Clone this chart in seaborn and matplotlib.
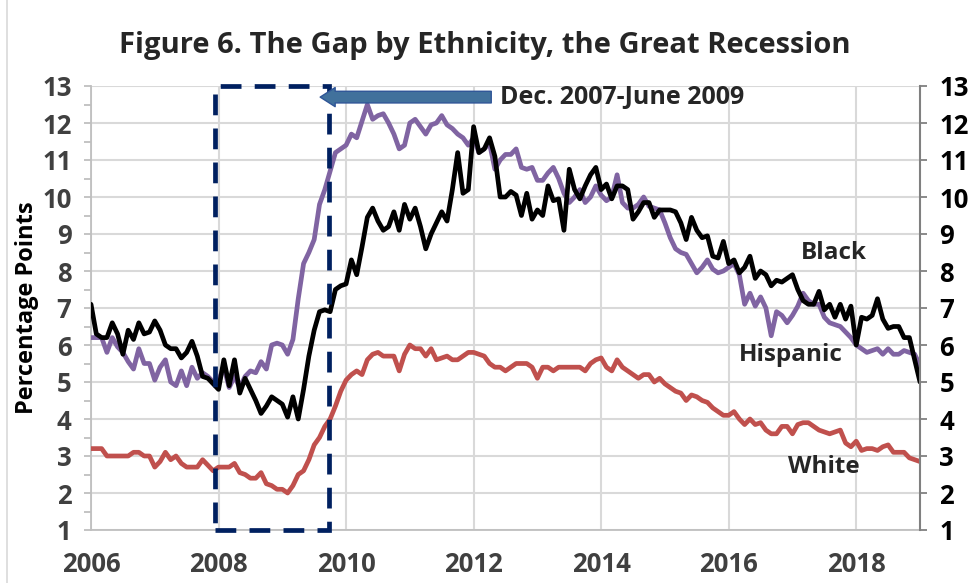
import matplotlib.pyplot as plt
import matplotlib.patches as mpatches
import numpy as np
import pandas as pd
import seaborn as sns

sns.set_theme(style="white")
plt.rcParams['font.family'] = ['Open Sans', 'DejaVu Sans']

# monthly gap (percentage points), Jan 2006 .. Jan 2019
black = [7.1, 6.3, 6.2, 6.2, 6.6, 6.3, 5.75, 6.4, 6.15, 6.6, 6.3, 6.35,
         6.65, 6.4, 6.0, 5.9, 5.9, 5.65, 5.8, 6.1, 5.7, 5.15, 5.1, 4.95,
         4.8, 5.6, 4.9, 5.6, 4.7, 5.1, 4.8, 4.5, 4.15, 4.35, 4.6, 4.5,
         4.4, 4.05, 4.6, 4.0, 4.8, 5.7, 6.4, 6.9, 6.95, 6.9, 7.5, 7.6,
         7.65, 8.3, 7.9, 8.65, 9.45, 9.7, 9.35, 9.1, 9.2, 9.6, 9.1, 9.8,
         9.4, 9.7, 9.2, 8.6, 9.0, 9.3, 9.6, 9.35, 10.2, 11.2, 10.1, 10.2,
         11.9, 11.2, 11.3, 11.6, 11.1, 10.0, 10.0, 10.15, 10.05, 9.5, 10.1, 9.4,
         9.65, 9.5, 10.3, 9.9, 9.95, 9.1, 10.75, 10.2, 9.95, 10.3, 10.6, 10.8,
         10.2, 10.35, 9.95, 10.3, 10.3, 10.2, 9.4, 9.6, 9.85, 9.85, 9.45, 9.65,
         9.65, 9.65, 9.6, 9.3, 8.85, 9.45, 9.1, 8.9, 8.95, 8.4, 8.35, 8.8,
         8.2, 8.3, 7.95, 8.1, 8.4, 7.8, 8.0, 7.9, 7.6, 7.75, 7.7, 7.8,
         7.9, 7.5, 7.2, 7.1, 7.1, 7.45, 6.95, 7.1, 6.75, 7.1, 6.7, 7.05,
         6.0, 6.75, 6.7, 6.8, 7.25, 6.7, 6.45, 6.5, 6.5, 6.2, 6.2, 5.6,
         5.0]
hispanic = [6.2, 6.2, 6.2, 5.8, 6.2, 5.95, 5.8, 5.55, 5.35, 5.9, 5.5, 5.5,
            5.05, 5.4, 5.6, 5.0, 4.9, 5.3, 4.9, 5.4, 5.1, 5.25, 5.15, 5.0,
            5.05, 5.4, 4.85, 5.15, 4.85, 5.15, 5.3, 5.25, 5.55, 5.35, 6.0, 6.05,
            6.0, 5.75, 6.15, 7.25, 8.2, 8.5, 8.85, 9.8, 10.2, 10.7, 11.2, 11.3,
            11.4, 11.7, 11.6, 12.05, 12.5, 12.1, 12.2, 12.25, 12.0, 11.7, 11.3, 11.4,
            12.0, 12.1, 11.9, 11.7, 11.95, 12.0, 12.2, 11.95, 11.85, 11.7, 11.6, 11.4,
            11.6, 11.2, 11.3, 11.45, 10.75, 11.0, 11.15, 11.15, 11.3, 10.8, 10.75, 10.8,
            10.45, 10.45, 10.65, 10.8, 10.5, 10.1, 9.85, 10.0, 10.2, 9.85, 10.0, 10.3,
            10.05, 9.9, 10.0, 10.6, 9.85, 9.7, 9.7, 9.8, 10.0, 9.75, 9.7, 9.65,
            9.3, 8.9, 8.6, 8.5, 8.45, 8.2, 7.95, 8.1, 8.3, 8.05, 7.95, 8.0,
            8.1, 8.2, 7.9, 7.1, 7.4, 7.05, 7.3, 7.0, 6.25, 6.9, 6.8, 6.6,
            6.8, 7.05, 7.4, 7.2, 7.1, 7.1, 6.75, 6.6, 6.55, 6.5, 6.35, 6.2,
            6.0, 5.9, 5.8, 5.85, 5.9, 5.75, 5.9, 5.75, 5.75, 5.85, 5.8, 5.75,
            5.45]
white = [3.2, 3.2, 3.2, 3.0, 3.0, 3.0, 3.0, 3.0, 3.1, 3.1, 3.0, 3.0,
         2.7, 2.85, 3.1, 2.9, 3.0, 2.8, 2.7, 2.7, 2.7, 2.9, 2.75, 2.6,
         2.7, 2.7, 2.7, 2.8, 2.55, 2.5, 2.4, 2.4, 2.55, 2.25, 2.2, 2.1,
         2.1, 2.0, 2.2, 2.5, 2.6, 2.9, 3.3, 3.5, 3.8, 4.0, 4.35, 4.75,
         5.05, 5.2, 5.3, 5.2, 5.6, 5.75, 5.8, 5.7, 5.7, 5.7, 5.3, 5.75,
         6.0, 5.9, 5.9, 5.7, 5.9, 5.6, 5.65, 5.7, 5.6, 5.6, 5.7, 5.8,
         5.8, 5.75, 5.7, 5.5, 5.4, 5.4, 5.3, 5.4, 5.5, 5.5, 5.5, 5.4,
         5.1, 5.4, 5.4, 5.3, 5.4, 5.4, 5.4, 5.4, 5.4, 5.3, 5.5, 5.6,
         5.65, 5.4, 5.3, 5.6, 5.4, 5.3, 5.2, 5.1, 5.2, 5.2, 5.0, 5.1,
         4.95, 4.85, 4.75, 4.7, 4.5, 4.65, 4.6, 4.5, 4.45, 4.3, 4.2, 4.1,
         4.1, 4.2, 4.0, 3.85, 4.0, 3.85, 3.9, 3.7, 3.6, 3.6, 3.8, 3.8,
         3.6, 3.85, 3.9, 3.9, 3.8, 3.7, 3.65, 3.6, 3.65, 3.7, 3.35, 3.25,
         3.4, 3.15, 3.2, 3.2, 3.15, 3.25, 3.3, 3.1, 3.1, 3.1, 2.95, 2.9,
         2.85]

groups = ['Hispanic', 'Black', 'White']
colors = {'Hispanic': '#8064A2', 'Black': '#000000', 'White': '#C0504D'}
year_ticks = [2006, 2008, 2010, 2012, 2014, 2016, 2018]
recession = (2007.95, 2009.73)   # box drawn in the original
recession_label = 'Dec. 2007-June 2009'

n = len(black)
year = 2006 + np.arange(n) / 12
df = pd.DataFrame({
    'year': np.tile(year, 3),
    'gap': hispanic + black + white,
    'group': np.repeat(groups, n),
})

fig = plt.figure(figsize=(9.69, 5.83), dpi=100)
ax = fig.add_axes([91 / 969, 1 - 530 / 583, (920 - 91) / 969, (530 - 86) / 583])

sns.lineplot(data=df, x='year', y='gap', hue='group', hue_order=groups,
             palette=colors, linewidth=3.4, legend=False, ax=ax, zorder=3)
for l in ax.lines:
    l.set_solid_joinstyle('round')
    l.set_solid_capstyle('round')

ax.set_xlim(2006, 2019)
ax.set_ylim(1, 13)
ax.set_xlabel('')
ax.set_ylabel('Percentage Points', fontsize=17, fontweight='bold', color='black', labelpad=2)

grid = '#D9D9D9'
ax.set_yticks(range(1, 14))
ax.set_yticks(np.arange(1.5, 13, 1), minor=True)
ax.set_xticks(year_ticks)
ax.set_xticks(np.arange(2006, 2019.01, 0.5), minor=True)
ax.grid(True, which='major', color=grid, linewidth=1.5, zorder=0)
ax.tick_params(axis='both', which='both', direction='out', length=5, width=1.3,
               color='#BFBFBF', labelsize=18.5, labelcolor='#404040', pad=9)
ax.tick_params(axis='x', pad=10)
for lab in ax.get_xticklabels() + ax.get_yticklabels():
    lab.set_fontweight('bold')
for s in ['top', 'right']:
    ax.spines[s].set_visible(False)
for s in ['left', 'bottom']:
    ax.spines[s].set_color('#BFBFBF')
    ax.spines[s].set_linewidth(1.3)

ax2 = ax.twinx()
ax2.set_ylim(1, 13)
ax2.set_yticks(range(1, 14))
ax2.tick_params(axis='y', direction='out', length=5, width=1.3, color='#808080',
                labelsize=18.5, labelcolor='black', pad=9)
for lab in ax2.get_yticklabels():
    lab.set_fontweight('bold')
for s in ['top', 'left', 'bottom']:
    ax2.spines[s].set_visible(False)
ax2.spines['right'].set_color('#808080')
ax2.spines['right'].set_linewidth(1.5)

# recession box
ax.add_patch(mpatches.Rectangle((recession[0], 1), recession[1] - recession[0], 12,
                                fill=False, ec='#002060', lw=3.4, ls=(0, (4.4, 2.8)),
                                zorder=5, clip_on=False))
ax.annotate('', xy=(2009.55, 12.7), xytext=(2012.32, 12.7),
            arrowprops=dict(arrowstyle='simple,head_length=0.9,head_width=1.15,tail_width=0.7',
                            fc='#41719C', ec='#2F5597', lw=1), zorder=6)
ax.text(2012.42, 12.68, recession_label, fontsize=18, fontweight='bold', va='center', ha='left')

ax.text(2017.13, 8.49, 'Black', fontsize=17.5, fontweight='bold', va='center')
ax.text(2016.16, 5.73, 'Hispanic', fontsize=17.5, fontweight='bold', va='center')
ax.text(2016.93, 2.7, 'White', fontsize=17.5, fontweight='bold', va='center')

fig.text(0.5, 1 - 45 / 583, 'Figure 6. The Gap by Ethnicity, the Great Recession',
         ha='center', va='center', fontsize=21, fontweight='bold')

fig.patches.append(mpatches.Rectangle((7 / 969, -0.01), 1.0, 1.02, transform=fig.transFigure,
                                      fill=False, ec='#D9D9D9', lw=1.2))

fig.savefig('out.png', dpi=100)
